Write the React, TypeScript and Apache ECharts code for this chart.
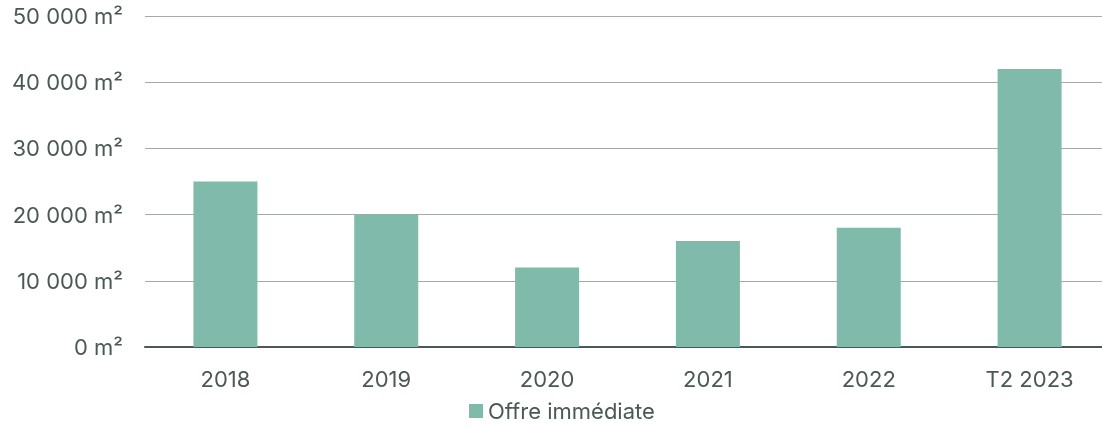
import React, { useEffect, useRef } from "react";
import * as echarts from "echarts";

const categories = ["2018", "2019", "2020", "2021", "2022", "T2 2023"];
const offreImmediate = [25000, 20000, 12000, 16000, 18000, 42000];
const seriesName = "Offre immédiate";

const textColor = "#4a5856";
const barColor = "#80baab";
const fontFamily = "Inter, Roboto, sans-serif";

const fmt = (v: number) => {
  const s = String(Math.round(v)).replace(/\B(?=(\d{3})+(?!\d))/g, " ");
  return s + " m²";
};

export default function App() {
  const ref = useRef<HTMLDivElement>(null);
  useEffect(() => {
    if (!ref.current) return;
    const chart = echarts.init(ref.current, null, { renderer: "svg" });
    chart.setOption({
      animation: false,
      textStyle: { fontFamily },
      grid: { left: 145, right: 0, top: 16, bottom: 82, containLabel: false },
      legend: {
        top: 400,
        left: 469,
        padding: 0,
        icon: "rect",
        itemWidth: 14,
        itemHeight: 14,
        itemGap: 10,
        textStyle: { color: textColor, fontSize: 22, fontFamily, padding: [0, 0, 0, 0] },
        data: [seriesName],
      },
      xAxis: {
        type: "category",
        data: categories,
        axisLine: { lineStyle: { color: textColor, width: 2 } },
        axisTick: { show: false },
        axisLabel: { color: textColor, fontSize: 22, margin: 21, fontFamily },
      },
      yAxis: {
        type: "value",
        min: 0,
        max: 50000,
        interval: 10000,
        axisLine: { show: false },
        axisTick: { show: false },
        splitLine: { lineStyle: { color: "#a5a9a8", width: 1 } },
        axisLabel: {
          color: textColor,
          fontSize: 22,
          margin: 22,
          fontFamily,
          formatter: fmt,
        },
      },
      series: [
        {
          name: seriesName,
          type: "bar",
          data: offreImmediate,
          barWidth: 64,
          itemStyle: { color: barColor },
        },
      ],
    });
    return () => chart.dispose();
  }, []);
  return (
    <div
      ref={ref}
      style={{ position: "fixed", left: 0, top: 0, width: 1110, height: 429 }}
    />
  );
}
